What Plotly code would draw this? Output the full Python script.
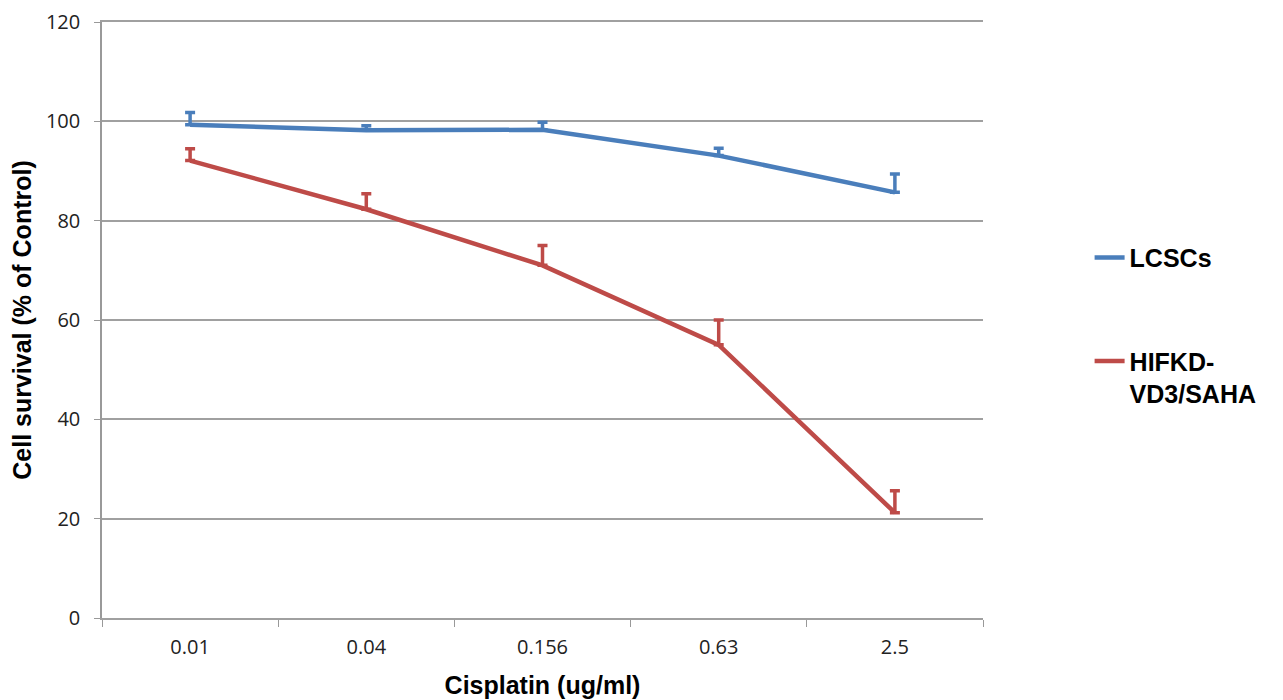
import plotly.graph_objects as go

categories = ["0.01", "0.04", "0.156", "0.63", "2.5"]
lcsc_values = [99.3, 98.2, 98.3, 93.1, 85.7]
lcsc_err = [2.5, 0.9, 1.5, 1.5, 3.7]
hif_values = [92.1, 82.3, 71.0, 55.0, 21.2]
hif_err = [2.4, 3.1, 4.0, 5.0, 4.4]
y_ticks = [0, 20, 40, 60, 80, 100, 120]

fig = go.Figure()
fig.add_trace(go.Scatter(
    x=categories, y=lcsc_values, mode="lines", name="<b>LCSCs</b>",
    line=dict(color="#4A7EBB", width=4.5), legendgroup="a",
    error_y=dict(type="data", array=lcsc_err, arrayminus=[0]*5, symmetric=False,
                 color="#4A7EBB", thickness=3.5, width=5)))
fig.add_trace(go.Scatter(
    x=categories, y=hif_values, mode="lines", name="<b>HIFKD-<br>VD3/SAHA</b>",
    line=dict(color="#BE4B48", width=4.5), legendgroup="b",
    error_y=dict(type="data", array=hif_err, arrayminus=[0]*5, symmetric=False,
                 color="#BE4B48", thickness=3.5, width=5)))

tick_font = dict(family="Open Sans", size=20, color="#222")
title_font = dict(family="Liberation Sans, Arial", size=25, color="black")

fig.update_layout(
    width=1283, height=700,
    margin=dict(l=94, r=308, t=14, b=90, autoexpand=False),
    plot_bgcolor="white", paper_bgcolor="white",
    showlegend=True,
    legend=dict(x=1.121, y=0.643, xanchor="left", yanchor="top",
                traceorder="grouped", tracegroupgap=68, valign="top",
                font=dict(family="Liberation Sans, Arial", size=25, color="black"),
                bgcolor="rgba(0,0,0,0)"),
    xaxis=dict(
        type="category", showline=True, mirror=True, linecolor="#A0A0A0", linewidth=1.5,
        ticks="outside", tickson="boundaries", ticklen=7, tickcolor="#999",
        tickfont=tick_font, showgrid=False, ticklabelstandoff=10,
        title=dict(text="<b>Cisplatin (ug/ml)</b>", font=title_font, standoff=18),
        range=[-0.5, 4.5]),
    yaxis=dict(
        range=[0, 120], tickmode="array", tickvals=y_ticks, automargin=False,
        showline=True, linecolor="#999", linewidth=1.5,
        ticks="outside", ticklen=6, tickcolor="#999", tickfont=tick_font,
        showgrid=True, gridcolor="#A0A0A0", gridwidth=1.5, zeroline=False,
        ticklabelstandoff=10, ticklabeloverflow="allow",
        title=dict(text="<b>Cell survival (% of Control)</b>", font=title_font, standoff=12)),
)

fig.write_html("out.html")
